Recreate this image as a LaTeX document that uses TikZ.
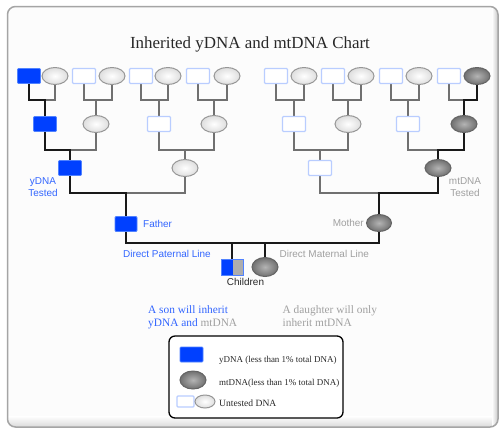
\documentclass[tikz,border=0pt]{standalone}
\usepackage{fontspec}
\setmainfont{Liberation Serif}
\setsansfont{Liberation Sans}
\usetikzlibrary{shapes.geometric}
\pgfdeclarelayer{panel}
\pgfdeclarelayer{lines}
\pgfsetlayers{panel,lines,main}
\definecolor{ybl}{RGB}{0,64,255}
\definecolor{yblb}{RGB}{80,130,255}
\definecolor{untb}{RGB}{185,205,255}
\definecolor{ungr}{RGB}{150,150,150}
\definecolor{mtin}{RGB}{180,180,180}
\definecolor{mtout}{RGB}{112,112,112}
\definecolor{mtb}{RGB}{100,100,100}
\definecolor{lnblack}{RGB}{25,25,25}
\definecolor{lngray}{RGB}{112,112,112}
\definecolor{txblue}{RGB}{51,102,255}
\definecolor{txgray}{RGB}{160,160,160}
\definecolor{txdark}{RGB}{40,40,40}
\definecolor{panelb}{RGB}{165,165,165}
\tikzset{
  yrect/.style={rectangle, minimum width=23bp, minimum height=15bp, inner sep=0pt,
    fill=ybl, draw=yblb, line width=0.8bp, rounded corners=1bp},
  urect/.style={rectangle, minimum width=23bp, minimum height=15bp, inner sep=0pt,
    fill=white, draw=untb, line width=1.2bp, rounded corners=1bp},
  uell/.style={ellipse, minimum width=26bp, minimum height=17bp, inner sep=0pt,
    draw=ungr, line width=1bp, inner color=white, outer color=black!13},
  mell/.style={ellipse, minimum width=26bp, minimum height=17bp, inner sep=0pt,
    draw=mtb, line width=1bp, inner color=mtin, outer color=mtout},
  sonrect/.style={rectangle, minimum width=22bp, minimum height=16bp, inner sep=0pt,
    draw=yblb, line width=1bp,
    path picture={\fill[ybl] (path picture bounding box.south west) rectangle ([xshift=1bp]path picture bounding box.north);
      \fill[black!32] ([xshift=1bp]path picture bounding box.north) rectangle (path picture bounding box.south east);}},
  pline/.style={draw=lnblack, line width=1.8bp, line cap=rect},
  gline/.style={draw=lngray, line width=1.8bp, line cap=rect},
  lab/.style={font=\sffamily\fontsize{10}{11.5}\selectfont, inner sep=0pt},
  ser/.style={font=\fontsize{11.4}{13}\selectfont, inner sep=0pt, align=left},
  legtext/.style={font=\fontsize{9}{10}\selectfont, inner sep=0pt, text=txdark, anchor=base west},
}
\newcommand\famj[7]{%
  \coordinate (jy) at (0,#4);
  \draw[#6] (#3 |- jy) -- (#2 |- jy) -- (#2);
  \draw[#5] (#1) -- (#1 |- jy) -- (#3 |- jy);
  \draw[#7] (#3) -- (#3 |- jy);
}
\begin{document}
\begin{tikzpicture}[x=1bp,y=-1bp]
\useasboundingbox (0,0) rectangle (502,429);
\begin{pgfonlayer}{panel}
  \fill[white] (0,0) rectangle (502,429);
  \begin{scope}
    \clip[rounded corners=8bp] (7.5,6.5) rectangle (498,427);
    \fill[black!1] (0,0) rectangle (502,429);
    \shade[top color=white, bottom color=black!16] (0,416) rectangle (502,428);
    \shade[left color=black!1, right color=black!22] (492,0) rectangle (498,429);
  \end{scope}
  \draw[panelb, line width=1.5bp, rounded corners=8bp] (7.5,6.5) rectangle (498,427);
\end{pgfonlayer}

\node[font=\fontsize{17}{20}\selectfont, text=txdark, anchor=base, inner sep=0pt] (title) at (250,48.5) {Inherited yDNA and mtDNA Chart};

% level 1
\node[yrect] (a1) at (29,76) {};
\node[uell] (a2) at (55,76) {};
\node[urect] (a3) at (84,76) {};
\node[uell] (a4) at (112,76) {};
\node[urect] (a5) at (141,76) {};
\node[uell] (a6) at (168,76) {};
\node[urect] (a7) at (198,76) {};
\node[uell] (a8) at (227,76) {};
\node[urect] (a9) at (276,76) {};
\node[uell] (a10) at (304,76) {};
\node[urect] (a11) at (333,76) {};
\node[uell] (a12) at (361,76) {};
\node[urect] (a13) at (391,76) {};
\node[uell] (a14) at (419,76) {};
\node[urect] (a15) at (449,76) {};
\node[mell] (a16) at (477,76) {};
% level 2
\node[yrect] (b1) at (45,124) {};
\node[uell] (b2) at (96,124) {};
\node[urect] (b3) at (159,124) {};
\node[uell] (b4) at (214,124) {};
\node[urect] (b5) at (294,124) {};
\node[uell] (b6) at (348,124) {};
\node[urect] (b7) at (408,124) {};
\node[mell] (b8) at (464,124) {};
% level 3
\node[yrect] (c1) at (70,168) {};
\node[uell] (c2) at (185,168) {};
\node[urect] (c3) at (320,168) {};
\node[mell] (c4) at (438,168) {};
% parents
\node[yrect, minimum width=22bp] (father) at (126,224) {};
\node[mell, minimum width=25bp] (mother) at (379,223) {};
% children
\node[sonrect] (son) at (232,267) {};
\node[mell, minimum height=19bp] (daughter) at (265,267) {};

\begin{pgfonlayer}{lines}
  \famj{a1}{a2}{b1}{100}{pline}{gline}{pline}
  \famj{a3}{a4}{b2}{100}{gline}{gline}{gline}
  \famj{a5}{a6}{b3}{100}{gline}{gline}{gline}
  \famj{a7}{a8}{b4}{100}{gline}{gline}{gline}
  \famj{a9}{a10}{b5}{100}{gline}{gline}{gline}
  \famj{a11}{a12}{b6}{100}{gline}{gline}{gline}
  \famj{a13}{a14}{b7}{100}{gline}{gline}{gline}
  \famj{a15}{a16}{b8}{100}{gline}{pline}{pline}
  \famj{b1}{b2}{c1}{150}{pline}{gline}{pline}
  \famj{b3}{b4}{c2}{150}{gline}{gline}{gline}
  \famj{b5}{b6}{c3}{150}{gline}{gline}{gline}
  \famj{b7}{b8}{c4}{150}{gline}{pline}{pline}
  \famj{c1}{c2}{father}{193}{pline}{gline}{pline}
  \famj{c3}{c4}{mother}{193}{gline}{pline}{pline}
  \coordinate (jp) at (0,243);
  \draw[pline] (father) -- (father |- jp) -- (mother |- jp) -- (mother);
  \draw[pline] (son) -- (son |- jp);
  \draw[pline] (daughter) -- (daughter |- jp);
\end{pgfonlayer}

% labels
\node[lab, text=txblue, align=center] (ytested) at (43,187) {yDNA\\Tested};
\node[lab, text=txgray, align=center] (mtested) at (465,187) {mtDNA\\Tested};
\node[lab, text=txblue, anchor=west] (flab) at (143,224) {Father};
\node[lab, text=txgray, anchor=east] (mlab) at (364,223) {Mother};
\node[lab, text=txblue, anchor=west] (plab) at (123,254) {Direct Paternal Line};
\node[lab, text=txgray, anchor=west] (mllab) at (279.5,254) {Direct Maternal Line};
\node[lab, text=txdark] (clab) at (245.5,282) {Children};

\node[ser, anchor=north west] (sontxt) at (148,305.5) {\textcolor{txblue}{A son will inherit}\\\textcolor{txblue}{yDNA and} \textcolor{txgray}{mtDNA}};
\node[ser, anchor=north west, text=txgray] (dtxt) at (282.5,305.5) {A daughter will only\\inherit mtDNA};

% legend
\draw[black, line width=1.3bp, rounded corners=6bp, fill=white] (169,336) rectangle (343,418);
\node[yrect] (ly) at (191.5,354.5) {};
\node[mell, minimum height=18bp] (lm) at (193,380) {};
\node[urect, minimum width=17bp, minimum height=11bp] (lu1) at (185.5,401.5) {};
\node[uell, minimum width=20bp, minimum height=13bp] (lu2) at (205,401.5) {};
\node[legtext] (lt1) at (219,362) {yDNA (less than 1\% total DNA)};
\node[legtext] (lt2) at (219,385) {mtDNA(less than 1\% total DNA)};
\node[legtext, font=\fontsize{9.6}{11}\selectfont] (lt3) at (219,406) {Untested DNA};
\end{tikzpicture}
\end{document}
